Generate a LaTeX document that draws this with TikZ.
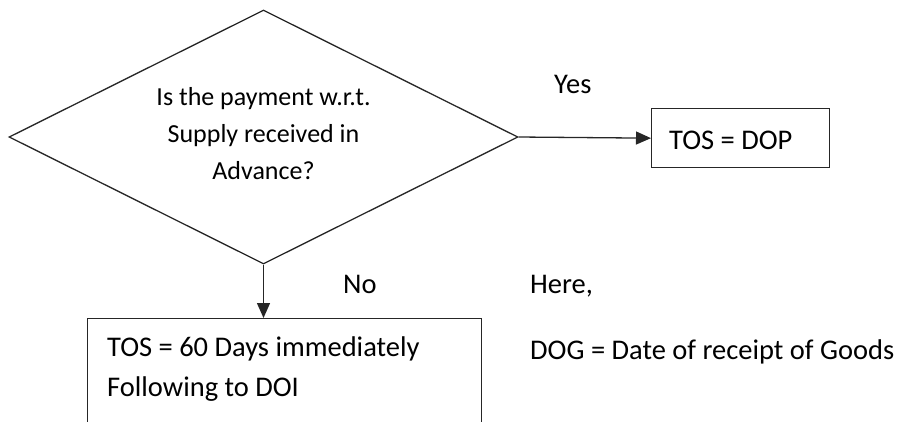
\documentclass[tikz,border=0pt]{standalone}
\usepackage{fontspec}
\setmainfont{Carlito}
\usetikzlibrary{shapes.geometric,arrows.meta}
\begin{document}
\begin{tikzpicture}[x=1pt,y=-1pt,
  edge/.style={line width=1.3pt, draw=black!85},
  flow/.style={edge, -{Triangle[length=15pt,width=13pt]}},
  decision/.style={diamond, edge, aspect=2, inner sep=0pt,
    minimum width=509pt, minimum height=254pt},
  box/.style={rectangle, edge, inner sep=0pt, anchor=north west},
  label/.style={anchor=base west, inner sep=0pt, font=\fontsize{28.5}{34}\selectfont},
  question/.style={align=center, inner sep=0pt, font=\fontsize{26}{37}\selectfont}]
\useasboundingbox (0,0) rectangle (899,421);
\clip (0,0) rectangle (899,421);

% decision
\node[decision] (dec) at (263.5,137) {};
\node[question] (qtext) at (263.5,134) {Is the payment w.r.t.\\Supply received in\\Advance?};

% yes branch
\node[box, minimum width=178pt, minimum height=59pt] (yesbox) at (651,108) {};
\node[label] (yestext) at (669,149) {TOS = DOP};
\draw[flow] (dec.east) -- (yesbox.west);
\node[label] (yeslbl) at (554,93) {Yes};

% no branch (box runs past the lower edge)
\node[box, minimum width=394pt, minimum height=130pt] (nobox) at (87,318) {};
\node[label] (notext1) at (107,356.5) {TOS = 60 Days immediately};
\node[label] (notext2) at (107,396.5) {Following to DOI};
\draw[flow] (dec.south) -- (dec.south |- nobox.north);
\node[label] (nolbl) at (343,293) {No};

% note
\node[label] (here) at (530,293) {Here,};
\node[label] (dog) at (530,359) {DOG = Date of receipt of Goods};
\end{tikzpicture}
\end{document}
